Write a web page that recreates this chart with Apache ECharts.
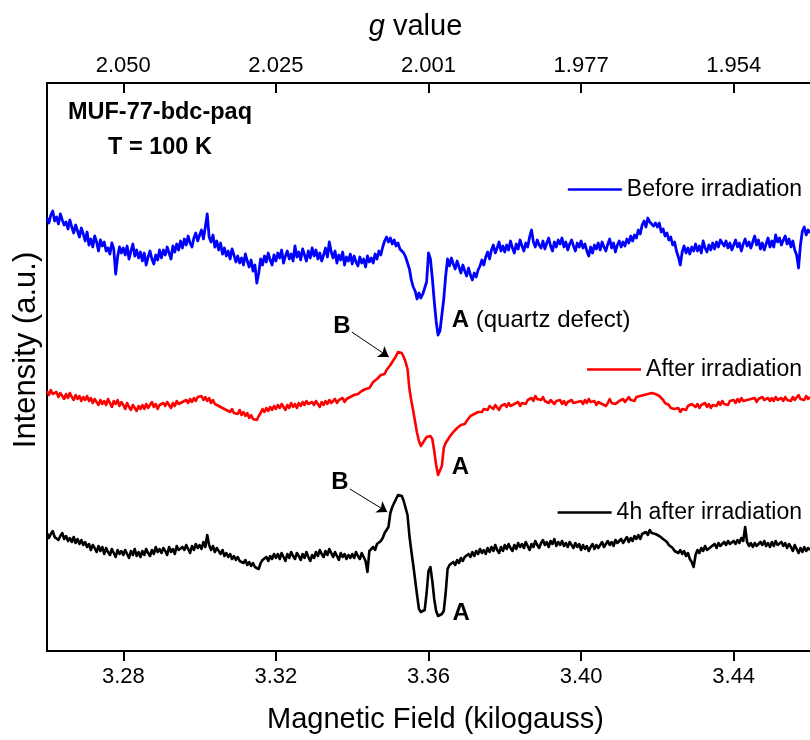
<!DOCTYPE html>
<html>
<head>
<meta charset="utf-8">
<title>EPR spectra of MUF-77-bdc-paq</title>
<script src="https://cdn.jsdelivr.net/npm/echarts@6/dist/echarts.min.js"></script>
<style>
  html, body { margin: 0; padding: 0; background: #fff; }
  #chart { width: 810px; height: 740px; }
</style>
</head>
<body>
<div id="chart"></div>
<script>
// Field sweep: 3.2600 to 3.4600 kG, one sample per 0.0005 kG
const FIELD_START = 3.26;
const FIELD_STEP = 0.0005;

// Bottom-axis ticks (kG) and the matching g values printed on the top axis
const fieldTicks = [3.28, 3.32, 3.36, 3.40, 3.44];
const gTickLabels = ['2.050', '2.025', '2.001', '1.977', '1.954'];

const seriesNames = ['Before irradiation', 'After irradiation', '4h after irradiation'];

// Stacked spectra (arbitrary intensity units, offsets included)
const before = [
  433,428,436,440,430,434,427,437,431,426,
  429,422,431,424,418,426,420,414,423,417,
  410,419,406,412,404,415,409,400,411,405,
  409,400,403,397,408,402,377,394,404,398,
  403,396,405,392,400,407,395,401,393,399,
  390,398,386,394,400,392,387,396,391,401,
  393,401,396,404,398,392,405,399,407,401,
  410,403,412,406,415,408,404,413,418,410,
  416,421,412,424,437,414,409,416,404,410,
  401,408,397,403,395,400,392,402,396,389,
  395,388,393,386,397,390,384,391,380,386,
  368,378,392,386,395,389,398,391,386,396,
  390,398,393,401,388,395,400,392,397,390,
  405,394,399,391,402,396,390,400,393,403,
  395,401,392,398,390,396,403,394,409,399,
  393,400,388,396,391,399,386,394,390,397,
  387,395,389,385,394,388,392,384,395,389,
  393,388,397,392,400,396,404,410,414,409,
  413,407,411,405,408,402,404,398,394,388,
  382,371,364,360,352,358,353,357,363,369,
  398,392,373,350,330,316,320,336,352,375,
  392,385,393,387,382,390,384,378,386,380,
  375,383,376,371,378,374,381,385,391,386,
  394,399,392,401,406,398,403,409,400,405,
  399,406,401,410,403,398,407,402,411,405,
  400,408,404,414,421,409,404,411,406,403,
  410,402,408,413,405,400,409,404,411,407,
  413,404,409,401,407,411,405,400,408,404,
  410,403,407,400,395,404,398,406,402,408,
  401,409,404,400,407,412,403,408,399,406,
  410,404,409,405,412,408,415,410,416,413,
  421,417,426,430,424,433,429,431,425,428,
  424,428,419,422,415,418,411,414,406,409,
  400,394,386,399,405,398,403,397,404,400,
  407,400,405,398,410,403,399,406,401,408,
  402,409,404,411,413,405,410,403,408,401,
  406,411,404,408,400,407,412,405,409,403,
  409,415,406,411,402,408,401,407,413,404,
  410,404,416,409,413,406,411,415,407,412,
  404,410,401,396,383,406,420,424,416,421,
  418
];

const after = [
  260,256,261,257,255,259,254,258,256,252,
  257,253,258,254,251,256,252,255,250,254,
  251,255,250,253,248,252,249,246,251,247,
  250,246,252,248,244,250,247,251,245,249,
  246,242,248,244,241,246,243,240,245,242,
  246,242,247,243,245,249,244,247,242,246,
  244,248,245,249,246,243,248,245,250,247,
  245,249,247,251,248,252,249,253,250,254,
  252,255,251,254,250,253,248,251,247,249,
  245,247,243,245,241,243,239,242,238,240,
  237,241,236,239,235,238,233,236,232,234,
  231,235,238,242,239,243,240,244,241,245,
  242,246,243,247,244,241,246,243,248,244,
  247,243,248,245,249,246,250,247,245,249,
  246,250,247,244,249,246,250,247,251,248,
  249,252,248,251,250,253,249,252,250,254,
  253,256,254,257,258,260,259,262,264,263,
  266,269,268,272,273,276,278,277,281,283,
  286,289,292,295,299,297,298,294,289,282,
  262,250,240,229,218,210,205,207,211,214,
  213,215,212,200,186,176,174,185,203,208,
  211,214,216,219,220,223,222,226,228,227,
  230,232,235,234,237,236,239,241,239,242,
  244,241,245,243,242,246,244,241,245,243,
  247,244,248,245,243,247,246,249,245,248,
  250,247,251,249,253,250,255,252,254,251,
  254,250,252,248,251,249,247,250,248,251,
  247,250,246,249,247,251,248,246,249,247,
  250,247,251,248,252,249,247,250,246,249,
  251,247,249,245,248,252,248,250,247,249,
  250,248,252,249,251,254,251,253,250,254,
  252,255,253,256,254,257,255,258,260,257,
  258,255,256,251,248,250,246,243,245,242,
  240,243,239,242,244,241,245,243,247,245,
  244,247,243,246,245,248,244,247,243,246,
  248,245,249,246,250,247,249,246,250,248,
  251,248,252,249,253,250,248,251,249,252,
  250,253,249,252,250,254,251,249,253,250,
  253,250,254,251,249,253,250,254,251,252,
  250,254,251,253,256,252,254,251,255,252,
  254
];

const after4h = [
  118,113,117,120,114,116,111,115,118,112,
  115,110,113,109,114,108,112,107,111,106,
  109,104,107,101,106,103,99,105,100,104,
  97,103,99,96,102,98,94,101,97,100,
  96,101,97,93,100,96,102,95,99,94,
  100,96,102,98,95,101,97,104,99,102,
  98,103,100,96,104,99,102,97,105,101,
  99,104,101,106,102,98,105,101,107,103,
  106,102,109,104,116,106,101,105,99,103,
  100,97,101,95,98,94,97,92,95,91,
  94,90,92,88,91,86,89,85,88,84,
  86,82,88,91,89,94,90,95,92,97,
  93,97,92,98,94,90,97,93,99,95,
  92,98,95,91,97,93,99,94,90,96,
  93,99,95,101,97,94,100,96,102,98,
  94,99,95,91,98,94,97,92,96,93,
  97,93,99,95,92,98,94,90,79,100,
  98,104,101,107,105,110,113,118,116,124,
  138,144,148,152,156,158,155,150,143,136,
  115,100,86,71,56,42,39,38,41,58,
  80,84,70,52,40,35,34,37,40,58,
  82,86,84,89,86,91,88,93,90,94,
  92,97,94,99,95,100,97,102,98,101,
  97,103,99,104,100,106,101,98,104,100,
  106,102,107,103,100,106,102,108,104,107,
  103,109,105,101,107,104,110,106,103,108,
  111,106,109,104,110,107,112,105,109,106,
  110,105,108,104,109,106,103,108,104,107,
  101,106,102,105,100,104,107,102,106,103,
  105,109,104,107,110,106,109,105,111,108,
  107,112,108,111,114,109,113,110,115,112,
  116,112,117,115,119,116,121,118,120,117,
  119,115,117,112,114,109,106,108,103,100,
  102,98,101,97,100,95,98,92,89,84,
  96,101,98,103,100,105,101,99,104,102,
  107,103,108,105,104,109,106,110,107,105,
  110,107,111,108,113,110,124,109,105,108,
  104,108,105,103,109,106,110,105,108,104,
  109,105,110,106,104,109,105,108,103,107,
  104,100,106,102,98,103,99,104,100,103,
  101
];

const FONT = '"Liberation Sans", Arial, Helvetica, sans-serif';
const colors = ['#0000ff', '#ff0000', '#000000'];
const lineWidths = [2.8, 2.6, 2.6];
const spectra = [before, after, after4h];

const field = before.map((_, i) => +(FIELD_START + i * FIELD_STEP).toFixed(4));

function fieldLabel(v) { return v.toFixed(2); }
function gLabel(v) {
  const k = fieldTicks.findIndex(t => Math.abs(t - v) < 1e-6);
  return k >= 0 ? gTickLabels[k] : '';
}

// Arrows pointing at feature B (field, intensity)
const arrowB = [
  null,
  [[3.3399, 319], [3.3496, 294]],
  [[3.3394, 162], [3.3492, 139]]
];

const chart = echarts.init(document.getElementById('chart'), null, { renderer: 'canvas' });

const legendTops = [173, 353, 496];

const option = {
  animation: false,
  backgroundColor: '#ffffff',
  textStyle: { fontFamily: FONT },
  grid: { left: 47, top: 83, width: 771, height: 568, containLabel: false },
  legend: seriesNames.map((name, k) => ({
    data: [name],
    right: 3,
    top: legendTops[k],
    icon: 'rect',
    itemWidth: 54,
    itemHeight: 2.6,
    selectedMode: false,
    textStyle: { fontFamily: FONT, fontSize: 23, color: '#000' }
  })),
  xAxis: [
    {
      type: 'value', position: 'bottom', min: 3.26, max: 3.46,
      name: 'Magnetic Field (kilogauss)', nameLocation: 'middle', nameGap: 54,
      nameTextStyle: { fontFamily: FONT, fontSize: 29, color: '#000', padding: [0, 0, 0, 14] },
      axisLine: { show: true, onZero: false, lineStyle: { color: '#000', width: 2 } },
      axisTick: { show: true, inside: false, length: 10, customValues: fieldTicks, lineStyle: { color: '#000', width: 2 } },
      axisLabel: { show: true, margin: 15, customValues: fieldTicks, formatter: fieldLabel, fontFamily: FONT, fontSize: 22, color: '#000' },
      splitLine: { show: false }
    },
    {
      type: 'value', position: 'top', min: 3.26, max: 3.46,
      name: '{i|g} value', nameLocation: 'middle', nameGap: 42,
      nameTextStyle: {
        fontFamily: FONT, fontSize: 29, color: '#000', padding: [0, 26, 0, 0],
        rich: { i: { fontFamily: FONT, fontSize: 29, fontStyle: 'italic', color: '#000' } }
      },
      axisLine: { show: true, onZero: false, lineStyle: { color: '#000', width: 2 } },
      axisTick: { show: true, inside: true, length: 10, customValues: fieldTicks, lineStyle: { color: '#000', width: 2 } },
      axisLabel: { show: true, margin: 6, customValues: fieldTicks, formatter: gLabel, fontFamily: FONT, fontSize: 22, color: '#000' },
      splitLine: { show: false }
    }
  ],
  yAxis: {
    type: 'value', min: 0, max: 568,
    name: 'Intensity (a.u.)', nameLocation: 'middle', nameGap: 5, nameRotate: 90,
    nameTextStyle: { fontFamily: FONT, fontSize: 31, color: '#000', padding: [0, 0, 0, 34] },
    axisLine: { show: true, onZero: false, lineStyle: { color: '#000', width: 2 } },
    axisTick: { show: false },
    axisLabel: { show: false },
    splitLine: { show: false }
  },
  series: spectra.map((vals, k) => {
    const s = {
      name: seriesNames[k],
      type: 'line',
      xAxisIndex: 0,
      yAxisIndex: 0,
      data: field.map((x, i) => [x, vals[i]]),
      symbol: 'none',
      showSymbol: false,
      lineStyle: { color: colors[k], width: lineWidths[k], join: 'round' },
      itemStyle: { color: colors[k] },
      silent: true
    };
    if (arrowB[k]) {
      s.markLine = {
        silent: true,
        animation: false,
        symbol: ['none', 'arrow'],
        symbolSize: 10,
        label: { show: false },
        lineStyle: { color: '#000', width: 1, type: 'solid' },
        itemStyle: { color: '#000' },
        data: [[{ coord: arrowB[k][0] }, { coord: arrowB[k][1] }]]
      };
    }
    return s;
  })
};

chart.setOption(option);

// Text annotations placed at data coordinates
const notes = [
  { field: 3.3373, y: 325, text: 'B', align: 'center' },
  { field: 3.3368, y: 169, text: 'B', align: 'center' },
  { field: 3.3661, y: 331, text: '{b|A} (quartz defect)', align: 'left' },
  { field: 3.3661, y: 184, text: '{b|A}', align: 'left' },
  { field: 3.3663, y: 38, text: '{b|A}', align: 'left' }
];

const graphics = notes.map(n => {
  const p = chart.convertToPixel({ xAxisIndex: 0, yAxisIndex: 0 }, [n.field, n.y]);
  return {
    type: 'text', x: p[0], y: p[1], silent: true,
    style: {
      text: n.text.indexOf('{') === 0 ? n.text : '{b|' + n.text + '}',
      align: n.align, verticalAlign: 'middle',
      fontFamily: FONT, fontSize: 24, fill: '#000',
      rich: { b: { fontFamily: FONT, fontSize: 24, fontWeight: 'bold', fill: '#000' } }
    }
  };
});

graphics.push({
  type: 'text', x: 160, y: 113, silent: true,
  style: { text: 'MUF-77-bdc-paq', align: 'center', verticalAlign: 'middle', fontFamily: FONT, fontSize: 23.5, fontWeight: 'bold', fill: '#000' }
});
graphics.push({
  type: 'text', x: 160, y: 148, silent: true,
  style: { text: 'T = 100 K', align: 'center', verticalAlign: 'middle', fontFamily: FONT, fontSize: 23.5, fontWeight: 'bold', fill: '#000' }
});

chart.setOption({ graphic: graphics });
</script>
</body>
</html>
